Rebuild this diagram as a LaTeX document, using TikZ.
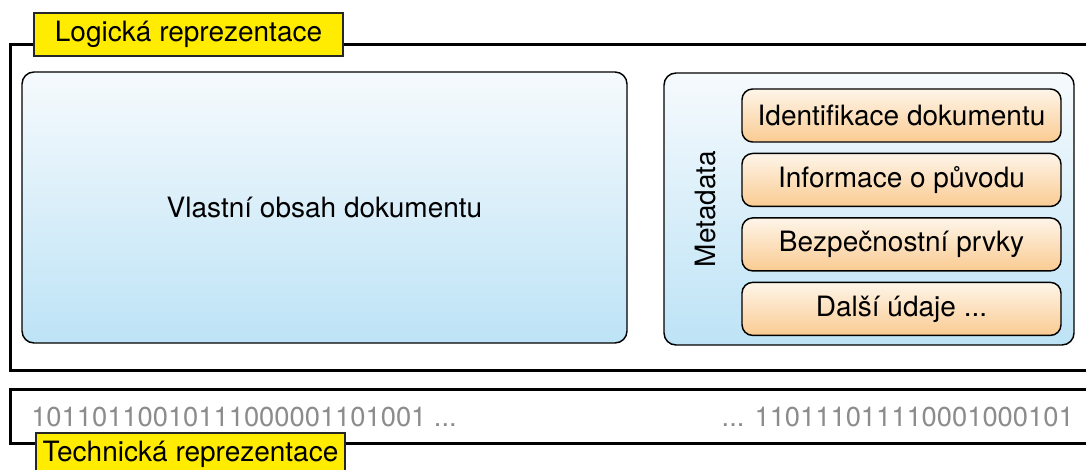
\documentclass[tikz,border=0pt]{standalone}
\usepackage{fontspec}
\setmainfont{TeX Gyre Heros}
\usetikzlibrary{positioning}
\definecolor{tagyellow}{RGB}{255,236,0}
\definecolor{paneltop}{RGB}{246,250,253}
\definecolor{panelbottom}{RGB}{189,227,246}
\definecolor{fieldtop}{RGB}{254,245,233}
\definecolor{fieldbottom}{RGB}{250,203,146}

\begin{document}
\begin{tikzpicture}[x=0.75pt, y=-0.75pt,
    nodes={font=\fontsize{21}{25}\selectfont, inner sep=0pt},
    rim/.style={line width=2.25pt},
    tag/.style={draw=black!85, line width=1.1pt, fill=tagyellow,
      minimum width=231.75pt, minimum height=32.25pt},
    panel/.style={draw, line width=1.1pt, rounded corners=9pt,
      top color=paneltop, bottom color=panelbottom},
    field/.style={draw, line width=1.1pt, rounded corners=8pt,
      top color=fieldtop, bottom color=fieldbottom,
      minimum width=239.25pt, minimum height=39.75pt},
    bits/.style={text=black!45, font=\fontsize{20.5}{25}\selectfont}]
  \useasboundingbox (0,0) rectangle (1086,470);

  % logical layer
  \draw[rim] (1086,45) -- (10,45) -- (10,371) -- (1086,371);
  \node[tag] (logic) at (188.5,34.5) {Logická reprezentace};
  \node[panel, minimum width=453.75pt, minimum height=203.25pt] (content) at (324.5,207.5)
    {Vlastní obsah dokumentu};
  \node[panel, minimum width=307.5pt, minimum height=204pt] (meta) at (869,209) {};
  \node[rotate=90] (metatitle) at (705,209) {Metadata};
  \node[field] (field1) at (901.5,115.5) {Identifikace dokumentu};
  \node[field, below=7.5pt of field1] (field2) {Informace o původu};
  \node[field, below=7.5pt of field2] (field3) {Bezpečnostní prvky};
  \node[field, below=7.5pt of field3] (field4) {Další údaje ...};

  % technical layer
  \draw[rim] (1086,390) -- (10,390) -- (10,443) -- (1086,443);
  \node[bits, anchor=west] (bitsleft) at (31,417) {10110110010111000001101001 ...};
  \node[bits, anchor=east] (bitsright) at (1074,417) {... 110111011110001000101};
  \node[tag] (tech) at (190.5,454.5) {Technická reprezentace};
\end{tikzpicture}
\end{document}
